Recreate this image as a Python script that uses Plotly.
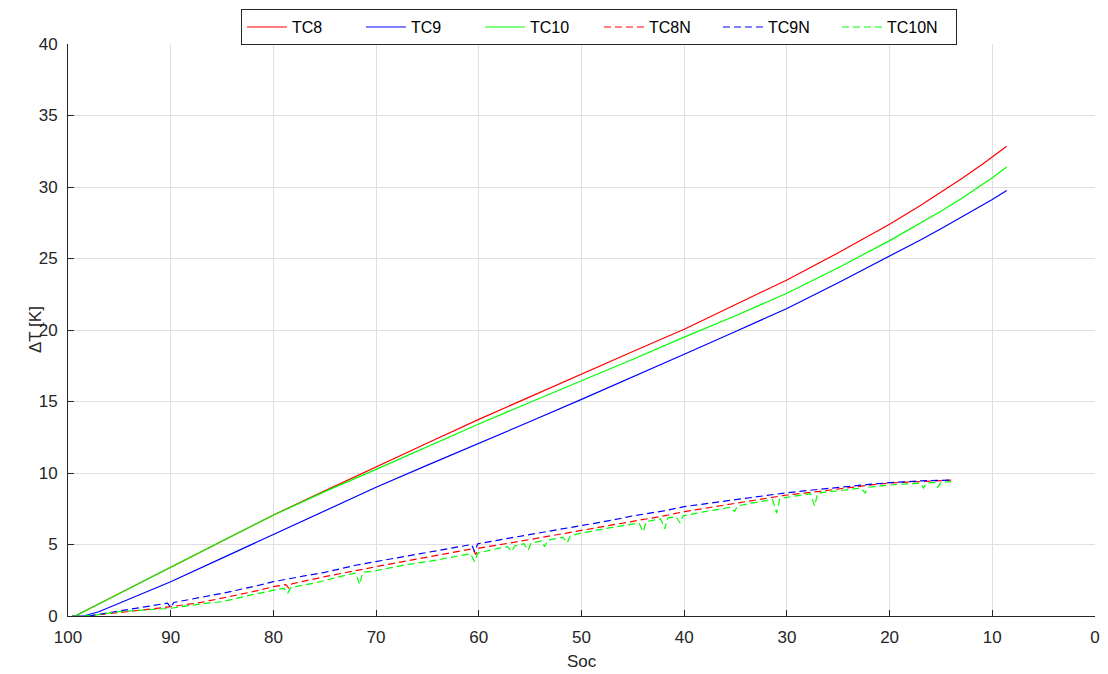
import plotly.graph_objects as go

# ---- Solid series (TC8, TC9, TC10) ----
soc_solid = [99.6, 99.3, 98.5, 97, 95, 92, 90, 85, 80, 75, 70, 65, 60, 55, 50,
             45, 40, 35, 30, 25, 20, 17, 15, 13, 11, 10, 8.6]
tc8 = [0, 0, 0.3, 0.85, 1.6, 2.7, 3.43, 5.25, 7.06, 8.75, 10.44, 12.1, 13.75,
       15.35, 16.92, 18.5, 20.05, 21.75, 23.5, 25.4, 27.4, 28.7, 29.62, 30.58,
       31.58, 32.1, 32.85]
tc9 = [0, 0, 0, 0.3, 0.9, 1.75, 2.4, 4.05, 5.71, 7.38, 9.0, 10.55, 12.05, 13.6,
       15.15, 16.7, 18.3, 19.9, 21.5, 23.3, 25.15, 26.3, 27.08, 27.88, 28.7,
       29.12, 29.75]
tc10 = [0, 0, 0.3, 0.85, 1.6, 2.7, 3.45, 5.25, 7.05, 8.7, 10.25, 11.85, 13.43,
        14.95, 16.43, 17.95, 19.5, 21.0, 22.57, 24.35, 26.25, 27.45, 28.3, 29.2,
        30.15, 30.65, 31.4]

# ---- Dashed series (TC8N, TC9N, TC10N) ----
soc_tc8n = [98, 96, 94, 92, 90, 87, 85, 82, 80, 78.8, 78.5, 78.2, 75, 72, 70,
            67, 65, 62, 60.6, 60.3, 60.0, 57, 55, 52, 50, 47, 45, 42, 40, 37,
            35, 32, 30, 27, 25, 22, 20, 17, 14]
tc8n = [0, 0.15, 0.3, 0.5, 0.65, 0.95, 1.24, 1.7, 2.05, 2.2, 1.95, 2.25, 2.75,
        3.2, 3.45, 3.85, 4.1, 4.5, 4.7, 4.3, 4.75, 5.1, 5.35, 5.75, 6.0, 6.4,
        6.65, 7.0, 7.3, 7.65, 7.9, 8.2, 8.46, 8.7, 8.9, 9.15, 9.3, 9.4, 9.5]

soc_tc9n = [98, 96, 94, 92, 90.3, 90.0, 89.7, 87, 85, 82, 80, 77, 75, 72, 70,
            67, 65, 62, 60.7, 60.4, 60.1, 57, 55, 52, 50, 47, 45, 42, 40, 37,
            35, 32, 30, 27, 25, 22, 20, 17, 14]
tc9n = [0, 0.25, 0.5, 0.7, 0.9, 0.6, 0.95, 1.3, 1.58, 2.05, 2.4, 2.8, 3.05,
        3.55, 3.8, 4.2, 4.45, 4.8, 5.0, 4.5, 5.05, 5.45, 5.7, 6.05, 6.35, 6.7,
        7.0, 7.35, 7.65, 7.95, 8.15, 8.4, 8.62, 8.85, 9.0, 9.2, 9.32, 9.45, 9.5]

soc_tc10n = [98.5, 97, 95, 92, 90, 87, 85, 82, 80, 79.0, 78.6, 78.3, 76, 75, 73,
             72.0, 71.6, 71.3, 70, 67, 65, 62, 60.8, 60.4, 60.1, 58, 57.2, 56.8,
             56.5, 55.6, 55.2, 54.9, 53.9, 53.6, 53.3, 51.8, 51.4, 51.1, 50, 47,
             45, 44.4, 44.0, 43.7, 42.3, 41.9, 41.6, 40.8, 40.4, 40.1, 38, 35.5,
             35.1, 34.8, 33, 31.4, 31.0, 30.7, 30, 27.7, 27.3, 27.0, 25, 22.8,
             22.4, 22.1, 20, 18, 17.0, 16.7, 16.4, 15.6, 15.3, 15.0, 14.0]
tc10n = [0, 0.1, 0.3, 0.45, 0.54, 0.85, 1.0, 1.5, 1.82, 1.95, 1.6, 2.0, 2.3,
         2.5, 2.85, 3.0, 2.2, 3.05, 3.17, 3.6, 3.8, 4.2, 4.35, 3.8, 4.4, 4.75,
         4.85, 4.5, 4.9, 5.05, 4.6, 5.1, 5.25, 4.85, 5.3, 5.5, 5.1, 5.6, 5.8,
         6.2, 6.45, 6.5, 5.9, 6.6, 6.8, 6.1, 6.85, 6.95, 6.5, 7.0, 7.3, 7.6,
         7.3, 7.7, 7.95, 8.15, 7.2, 8.2, 8.3, 8.55, 7.7, 8.6, 8.75, 8.95, 8.6,
         9.0, 9.16, 9.25, 9.3, 8.95, 9.3, 9.35, 9.0, 9.35, 9.4]

x_ticks = [100, 90, 80, 70, 60, 50, 40, 30, 20, 10, 0]
y_ticks = [0, 5, 10, 15, 20, 25, 30, 35, 40]

RED, BLUE, GREEN = "#ff0000", "#0000ff", "#00ff00"
DASH = "7px,4px"
LW = 1.2

fig = go.Figure()
fig.add_trace(go.Scatter(x=soc_solid, y=tc8, mode="lines", name="TC8",
                         line=dict(color=RED, width=LW)))
fig.add_trace(go.Scatter(x=soc_solid, y=tc9, mode="lines", name="TC9",
                         line=dict(color=BLUE, width=LW)))
fig.add_trace(go.Scatter(x=soc_solid, y=tc10, mode="lines", name="TC10",
                         line=dict(color=GREEN, width=LW)))
fig.add_trace(go.Scatter(x=soc_tc8n, y=tc8n, mode="lines", name="TC8N",
                         line=dict(color=RED, width=LW, dash=DASH)))
fig.add_trace(go.Scatter(x=soc_tc9n, y=tc9n, mode="lines", name="TC9N",
                         line=dict(color=BLUE, width=LW, dash=DASH)))
fig.add_trace(go.Scatter(x=soc_tc10n, y=tc10n, mode="lines", name="TC10N",
                         line=dict(color=GREEN, width=LW, dash=DASH)))

FAM = "Liberation Sans, Arial, sans-serif"
tick_font = dict(family=FAM, size=17, color="#262626")
title_font = dict(family=FAM, size=17, color="#262626")
fig.update_layout(
    width=1108, height=674,
    margin=dict(l=68, r=13, t=44, b=58, autoexpand=False),
    paper_bgcolor="white", plot_bgcolor="white",
    font=dict(family=FAM, color="#262626"),
    showlegend=True,
    legend=dict(orientation="h", x=0.517, xanchor="center", y=1.061, yanchor="top",
                bgcolor="white", bordercolor="#262626", borderwidth=1,
                font=dict(family=FAM, size=16, color="#000000"),
                entrywidth=64, tracegroupgap=0, itemwidth=40),
    annotations=[
        dict(text="ΔT [K]", xref="paper", yref="paper", x=-0.0321, y=0.5,
             textangle=-90, showarrow=False, font=title_font,
             xanchor="center", yanchor="middle"),
        dict(text="Soc", xref="paper", yref="paper", x=0.5, y=-0.0804,
             showarrow=False, font=title_font, xanchor="center", yanchor="middle"),
    ],
)
fig.update_xaxes(
    range=[100, 0], tickmode="array", tickvals=x_ticks,
    ticktext=[str(v) for v in x_ticks],
    tickfont=tick_font, ticks="inside", ticklen=6, tickcolor="#262626",
    ticklabelstandoff=6, automargin=False,
    showline=True, linecolor="#262626", linewidth=1,
    showgrid=True, gridcolor="#dfdfdf", gridwidth=1, zeroline=False,
)
fig.update_yaxes(
    range=[0, 40], tickmode="array", tickvals=y_ticks,
    ticktext=[str(v) for v in y_ticks],
    tickfont=tick_font, ticks="inside", ticklen=6, tickcolor="#262626",
    ticklabelstandoff=6, automargin=False,
    showline=True, linecolor="#262626", linewidth=1,
    showgrid=True, gridcolor="#dfdfdf", gridwidth=1, zeroline=False,
)

fig.write_html("out.html")
